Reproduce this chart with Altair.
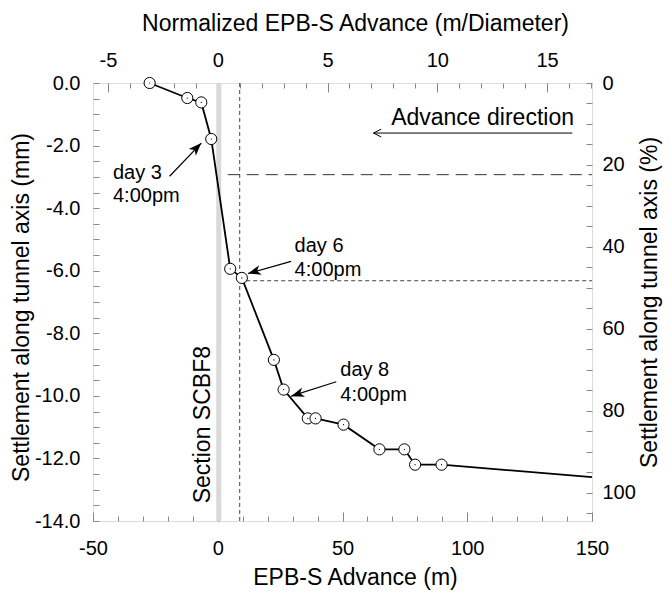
import math
import altair as alt
import pandas as pd

# ---------------- data ----------------
adv_m = [-27.3, -12.2, -6.6, -2.6, 5.0, 9.65, 22.5, 26.4, 36.1, 39.2, 50.4, 64.8, 74.8, 79.1, 89.7]
sett_mm = [0.0, -0.48, -0.62, -1.79, -5.94, -6.23, -8.85, -9.80, -10.72, -10.72, -10.92, -11.71, -11.71, -12.20, -12.20]
tail_adv = [150.0]
tail_sett = [-12.6]

diameter_m = 8.8
x_ticks_major = [-50, 0, 50, 100, 150]
x_ticks_minor = list(range(-50, 151, 10))
y_ticks_major = [-14, -12, -10, -8, -6, -4, -2, 0]
y_ticks_minor = [v / 2 for v in range(-28, 1)]
n_ticks_major = [-5, 0, 5, 10, 15]
n_ticks_minor = list(range(-5, 18))
p_ticks_major = [0, 20, 40, 60, 80, 100]
p_ticks_minor = list(range(0, 106, 5))

band_x = [-0.6]
band_x2 = [1.4]
vline_x = [8.8]
hline_long_x = [4.0]
hline_long_y = [-2.93]
hline_short_x = [11.4]
hline_short_y = [-6.32]

ann_text1 = ["day 3", "day 6", "day 8"]
ann_text2 = ["4:00pm", "4:00pm", "4:00pm"]
ann_x = [-42.0, 30.8, 49.1]
ann_y1 = [-2.88, -5.22, -9.16]
ann_y2 = [-3.62, -5.97, -9.96]
arr_tail_x = [-19.3, 29.4, 47.5]
arr_tail_y = [-2.98, -5.70, -9.55]
arr_head_x = [-6.6, 12.1, 29.4]
arr_head_y = [-1.92, -6.09, -10.01]

dir_text = ["Advance direction"]
dir_text_x = [69.5]
dir_text_y = [-1.12]
dir_arrow_x = [142.1]
dir_arrow_x2 = [62.4]
dir_arrow_y = [-1.60]

sec_text = ["Section SCBF8"]
sec_x = [-6.1]
sec_y = [-10.92]

# ---------------- layout ----------------
W, H = 499, 438
X_DOM = [-50, 150]
Y_DOM = [-14, 0]
N_DOM = [X_DOM[0] / diameter_m, X_DOM[1] / diameter_m]
P_DOM = [0, 106.9]
FONT = "Liberation Sans"
NEG = "datum.value < 0 ? '-' + format(-datum.value, '{f}') : format(datum.value, '{f}')"


def xs():
    return alt.Scale(domain=X_DOM, nice=False, zero=False)


def ys():
    return alt.Scale(domain=Y_DOM, nice=False, zero=False)


def ns():
    return alt.Scale(domain=N_DOM, nice=False, zero=False)


def ps():
    return alt.Scale(domain=P_DOM, nice=False, zero=False, reverse=True)


X_NO = dict(scale=xs(), axis=None)
Y_NO = dict(scale=ys(), axis=None)

curve = pd.DataFrame({"adv": adv_m + tail_adv, "sett": sett_mm + tail_sett})
pts = pd.DataFrame({"adv": adv_m, "sett": sett_mm})

band = alt.Chart(pd.DataFrame({"a": band_x, "b": band_x2})).mark_rect(color="#d9d9d9").encode(
    x=alt.X("a:Q", **X_NO), x2="b:Q", y=alt.value(0), y2=alt.value(H))

vline = alt.Chart(pd.DataFrame({"a": vline_x})).mark_rule(
    color="#444444", strokeWidth=1, strokeDash=[4, 3]).encode(
    x=alt.X("a:Q", **X_NO), y=alt.value(0), y2=alt.value(H))

hlong = alt.Chart(pd.DataFrame({"a": hline_long_x, "b": [X_DOM[1]], "y": hline_long_y})).mark_rule(
    color="#333333", strokeWidth=1, strokeDash=[12, 7]).encode(
    x=alt.X("a:Q", **X_NO), x2="b:Q", y=alt.Y("y:Q", **Y_NO))

hshort = alt.Chart(pd.DataFrame({"a": hline_short_x, "b": [X_DOM[1]], "y": hline_short_y})).mark_rule(
    color="#444444", strokeWidth=1, strokeDash=[4, 3]).encode(
    x=alt.X("a:Q", **X_NO), x2="b:Q", y=alt.Y("y:Q", **Y_NO))

line = alt.Chart(curve).mark_line(color="black", strokeWidth=1.8).encode(
    x=alt.X("adv:Q", **X_NO), y=alt.Y("sett:Q", **Y_NO))

circles = alt.Chart(pts).mark_point(
    shape="circle", fill="white", fillOpacity=1, stroke="black", strokeWidth=1, size=125, opacity=1).encode(
    x=alt.X("adv:Q", **X_NO), y=alt.Y("sett:Q", **Y_NO))

dots = alt.Chart(pts).mark_point(shape="circle", filled=True, color="black", size=1.5, opacity=1).encode(
    x=alt.X("adv:Q", **X_NO), y=alt.Y("sett:Q", **Y_NO))

# annotations
ann = pd.DataFrame({"t1": ann_text1, "t2": ann_text2, "x": ann_x, "y1": ann_y1, "y2": ann_y2})
txt1 = alt.Chart(ann).mark_text(font=FONT, fontSize=20, align="left", baseline="middle", color="black").encode(
    x=alt.X("x:Q", **X_NO), y=alt.Y("y1:Q", **Y_NO), text="t1:N")
txt2 = alt.Chart(ann).mark_text(font=FONT, fontSize=20, align="left", baseline="middle", color="black").encode(
    x=alt.X("x:Q", **X_NO), y=alt.Y("y2:Q", **Y_NO), text="t2:N")

px_x = W / (X_DOM[1] - X_DOM[0])
px_y = H / (Y_DOM[1] - Y_DOM[0])
angles = []
for tx, ty, hx, hy in zip(arr_tail_x, arr_tail_y, arr_head_x, arr_head_y):
    a = math.degrees(math.atan2(-(hy - ty) * px_y, (hx - tx) * px_x)) % 360
    angles.append(a)
arr = pd.DataFrame({"tx": arr_tail_x, "ty": arr_tail_y, "hx": arr_head_x, "hy": arr_head_y, "ang": angles})
shafts = alt.Chart(arr).mark_rule(color="black", strokeWidth=1.2).encode(
    x=alt.X("tx:Q", **X_NO), x2="hx:Q", y=alt.Y("ty:Q", **Y_NO), y2="hy:Q")
heads = alt.Chart(arr).mark_point(
    shape="M0,0 L-2,-0.75 L-1.45,0 L-2,0.75 Z", filled=True, color="black", size=170, opacity=1).encode(
    x=alt.X("hx:Q", **X_NO), y=alt.Y("hy:Q", **Y_NO), angle=alt.Angle("ang:Q", scale=None))

dirdf = pd.DataFrame({"t": dir_text, "x": dir_text_x, "y": dir_text_y})
dir_txt = alt.Chart(dirdf).mark_text(font=FONT, fontSize=23, align="left", baseline="middle", color="black").encode(
    x=alt.X("x:Q", **X_NO), y=alt.Y("y:Q", **Y_NO), text="t:N")
dir_arr_df = pd.DataFrame({"a": dir_arrow_x, "b": dir_arrow_x2, "y": dir_arrow_y, "ang": [180]})
dir_shaft = alt.Chart(dir_arr_df).mark_rule(color="black", strokeWidth=1).encode(
    x=alt.X("a:Q", **X_NO), x2="b:Q", y=alt.Y("y:Q", **Y_NO))
dir_head = alt.Chart(dir_arr_df).mark_point(
    shape="M-2,-1 L0,0 L-2,1", filled=False, stroke="black", strokeWidth=1, size=60, opacity=1).encode(
    x=alt.X("b:Q", **X_NO), y=alt.Y("y:Q", **Y_NO), angle=alt.Angle("ang:Q", scale=None))

secdf = pd.DataFrame({"t": sec_text, "x": sec_x, "y": sec_y})
sec_txt = alt.Chart(secdf).mark_text(font=FONT, fontSize=23, align="center", baseline="middle",
                                      angle=270, color="black").encode(
    x=alt.X("x:Q", **X_NO), y=alt.Y("y:Q", **Y_NO), text="t:N")


# ---------------- axes ----------------
def xaxis(vals, scale, axis):
    return alt.Chart(pd.DataFrame({"v": vals})).mark_point(opacity=0).encode(
        x=alt.X("v:Q", scale=scale, axis=axis))


def yaxis(vals, scale, axis):
    return alt.Chart(pd.DataFrame({"v": vals})).mark_point(opacity=0).encode(
        y=alt.Y("v:Q", scale=scale, axis=axis))


TICKONLY = dict(labels=False, domain=False, grid=False, title="")

ax_bottom = xaxis(x_ticks_major, xs(), alt.Axis(
    orient="bottom", values=x_ticks_major, ticks=False, domain=False, grid=False,
    labelFontSize=20, labelPadding=17, labelFlush=False, labelExpr=NEG.format(f="d"),
    title="EPB-S Advance (m)", titleFontSize=23, titleFontWeight="normal", titlePadding=8,
    titleX=262))
ax_bottom_minor = xaxis(x_ticks_minor, xs(), alt.Axis(
    orient="top", offset=-H, values=x_ticks_minor, tickSize=5, **TICKONLY))
ax_bottom_major = xaxis(x_ticks_major, xs(), alt.Axis(
    orient="top", offset=-H, values=x_ticks_major, tickSize=9, **TICKONLY))

ax_top = xaxis(n_ticks_major, ns(), alt.Axis(
    orient="top", values=n_ticks_major, ticks=False, domain=False, grid=False,
    labelFontSize=20, labelPadding=13, labelFlush=False, labelExpr=NEG.format(f="d"),
    title="Normalized EPB-S Advance (m/Diameter)", titleFontSize=23, titleFontWeight="normal",
    titlePadding=15, titleX=262))
ax_top_minor = xaxis(n_ticks_minor, ns(), alt.Axis(
    orient="bottom", offset=-H, values=n_ticks_minor, tickSize=5, **TICKONLY))
ax_top_major = xaxis(n_ticks_major, ns(), alt.Axis(
    orient="bottom", offset=-H, values=n_ticks_major, tickSize=9, **TICKONLY))

ax_left = yaxis(y_ticks_major, ys(), alt.Axis(
    orient="left", values=y_ticks_major, ticks=False, domain=False, grid=False,
    labelFontSize=20, labelPadding=13, labelFlush=False, labelExpr=NEG.format(f=".1f"),
    title="Settlement along tunnel axis (mm)", titleFontSize=23, titleFontWeight="normal",
    titlePadding=1, titleY=224))
ax_left_minor = yaxis(y_ticks_minor, ys(), alt.Axis(
    orient="right", offset=-W, values=y_ticks_minor, tickSize=6, **TICKONLY))

ax_right = yaxis(p_ticks_major, ps(), alt.Axis(
    orient="right", values=p_ticks_major, ticks=False, domain=False, grid=False,
    labelFontSize=20, labelPadding=10, labelFlush=False, labelExpr=NEG.format(f="d"),
    title="Settlement along tunnel axis (%)", titleFontSize=23, titleFontWeight="normal",
    titlePadding=3, titleAngle=270, titleBaseline="top"))
ax_right_minor = yaxis(p_ticks_minor, ps(), alt.Axis(
    orient="left", offset=-W, values=p_ticks_minor, tickSize=6, **TICKONLY))

chart = alt.layer(
    band, vline, hlong, hshort, line, circles, dots,
    shafts, heads, txt1, txt2, dir_txt, dir_shaft, dir_head, sec_txt,
    ax_bottom, ax_bottom_minor, ax_bottom_major,
    ax_top, ax_top_minor, ax_top_major,
    ax_left, ax_left_minor, ax_right, ax_right_minor,
).resolve_scale(x="independent", y="independent").resolve_axis(x="independent", y="independent").properties(
    width=W, height=H,
    autosize=alt.AutoSizeParams(type="none"),
    padding={"left": 85, "top": 75, "right": 71, "bottom": 73},
).configure_view(stroke="black", strokeWidth=1).configure_axis(
    labelFont=FONT, titleFont=FONT, labelColor="black", titleColor="black",
    titleFontWeight="normal", tickColor="black", tickWidth=1,
).configure(background="white")

chart.save("out.html", embed_options={"renderer": "svg", "actions": False})
